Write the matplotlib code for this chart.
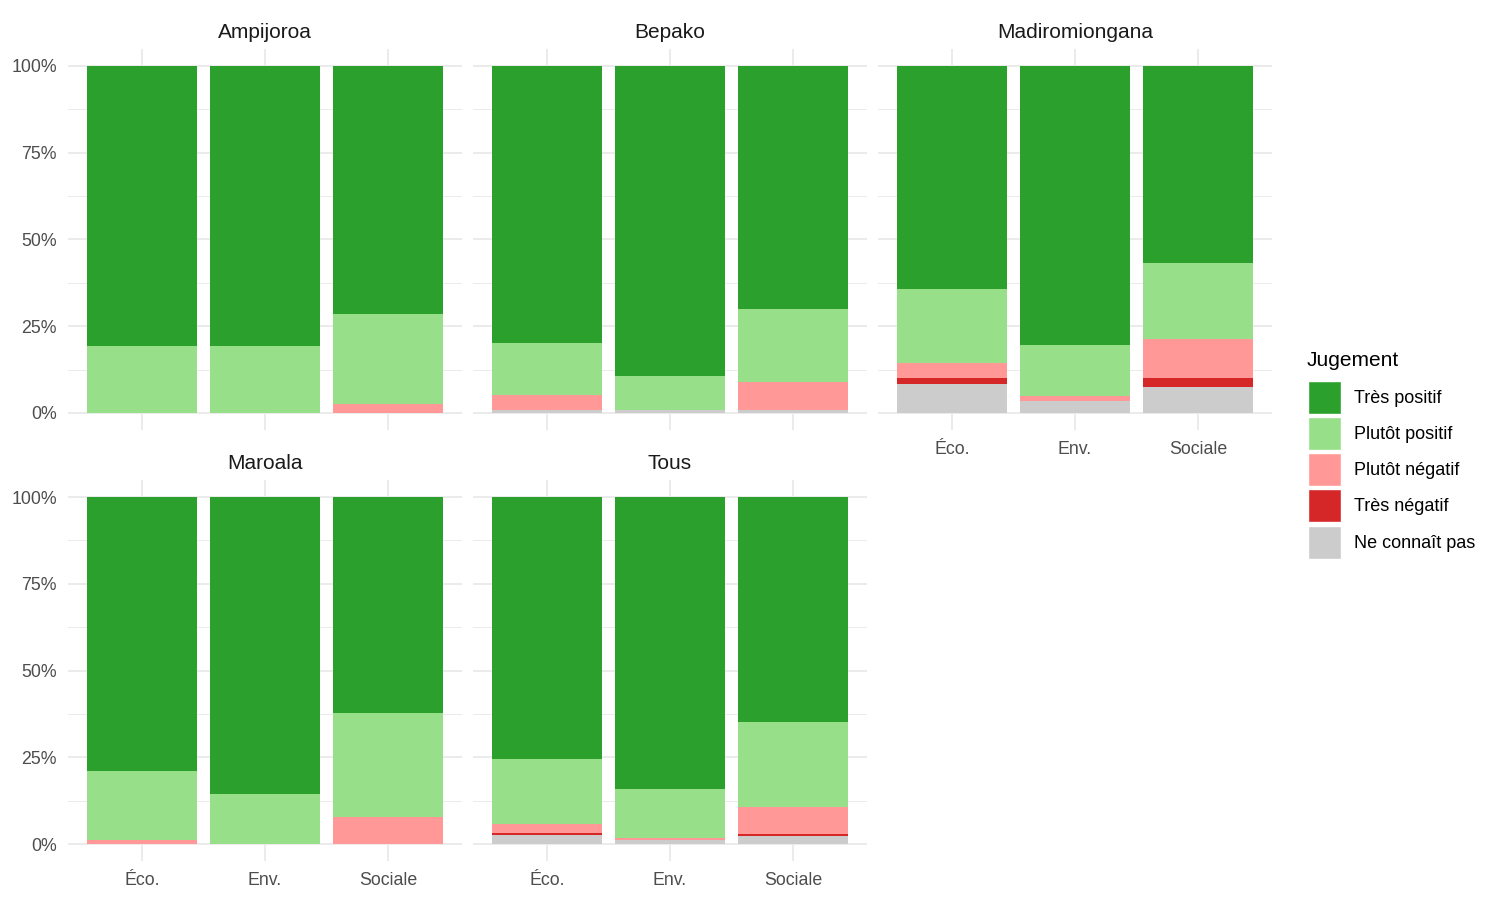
import matplotlib
matplotlib.use("Agg")
import matplotlib.pyplot as plt
from matplotlib.patches import Patch
import numpy as np

plt.rcParams['font.family'] = ['Liberation Sans', 'DejaVu Sans']

# data (percent)
sites = ["Ampijoroa", "Bepako", "Madiromiongana", "Maroala", "Tous"]
dims = ["Éco.", "Env.", "Sociale"]
levels = ["Très positif", "Plutôt positif", "Plutôt négatif", "Très négatif", "Ne connaît pas"]
colors = ["#2CA02C", "#98DF8A", "#FF9896", "#D62728", "#CCCCCC"]

ne_connait_pas = [[0, 0, 0], [0.8, 0.8, 0.8], [8.3, 3.4, 7.4], [0, 0, 0], [2.5, 1.2, 2.2]]
tres_negatif = [[0, 0, 0], [0, 0, 0], [1.7, 0, 2.6], [0, 0, 0], [0.6, 0, 0.6]]
plutot_negatif = [[0, 0, 2.7], [4.4, 0, 8.2], [4.3, 1.5, 11.2], [1.2, 0, 7.7], [2.7, 0.5, 7.8]]
plutot_positif = [[19.3, 19.3, 25.8], [15.0, 9.9, 21.0], [21.3, 14.6, 22.0], [19.8, 14.3, 30.0], [18.6, 14.3, 24.5]]
tres_positif = [[80.7, 80.7, 71.5], [79.8, 89.3, 70.0], [64.4, 80.5, 56.8], [79.0, 85.7, 62.3], [75.6, 84.0, 64.9]]

# stacking order, bottom to top
stack = [
    (ne_connait_pas, colors[4]),
    (tres_negatif, colors[3]),
    (plutot_negatif, colors[2]),
    (plutot_positif, colors[1]),
    (tres_positif, colors[0]),
]

W, H = 1500, 900
fig = plt.figure(figsize=(15, 9), dpi=100)

col_left = [68.2, 473.2, 878.2]
panel_w = 393.6
row_top = [48.65, 479.7]
panel_h = 381.7

grid_col = "#EBEBEB"
x = np.arange(len(dims))

for i, site in enumerate(sites):
    r, c = divmod(i, 3)
    ax = fig.add_axes([col_left[c] / W, 1 - (row_top[r] + panel_h) / H, panel_w / W, panel_h / H])
    bottom = np.zeros(len(dims))
    for vals, col in stack:
        v = np.array(vals[i]) / 100.0
        ax.bar(x, v, width=0.9, bottom=bottom, color=col, linewidth=0, zorder=3)
        bottom += v
    ax.set_xlim(-0.6, 2.6)
    ax.set_ylim(-0.05, 1.05)
    ax.set_yticks([0, 0.25, 0.5, 0.75, 1.0])
    ax.set_yticks([0.125, 0.375, 0.625, 0.875], minor=True)
    ax.set_xticks(x)
    ax.grid(True, which='major', color=grid_col, linewidth=1.4, zorder=0)
    ax.grid(True, which='minor', axis='y', color=grid_col, linewidth=0.7, zorder=0)
    for s in ax.spines.values():
        s.set_visible(False)
    ax.tick_params(which='both', length=0)
    ax.tick_params(axis='y', pad=8, labelsize=12.8, labelcolor="#4D4D4D")
    ax.tick_params(axis='x', pad=7.5, labelsize=12.8, labelcolor="#4D4D4D")
    if c == 0:
        ax.set_yticklabels(["0%", "25%", "50%", "75%", "100%"])
    else:
        ax.set_yticklabels([])
    # x labels only on panels with nothing below
    if r == 1 or (r == 0 and c == 2):
        ax.set_xticklabels(dims)
    else:
        ax.set_xticklabels([])
    ax.set_facecolor("white")
    ax.text(0.5, 1 + 16.5 / panel_h, site, transform=ax.transAxes, ha='center', va='center',
            fontsize=15, color="#1A1A1A")

# legend: title placed on its own, keys below
fig.text(1307 / W, 1 - 360 / H, "Jugement", ha='left', va='center', fontsize=15, color="#000000")
handles = [Patch(facecolor=col, edgecolor='white', linewidth=1) for col in colors]
leg = fig.legend(handles, levels, loc='upper left', bbox_to_anchor=(1307.5 / W, 1 - 381 / H),
                 frameon=False, fontsize=13,
                 handlelength=1.85, handleheight=2.44, labelspacing=0.17, handletextpad=0.72,
                 borderpad=0, borderaxespad=0)

fig.savefig("out.png", dpi=100, facecolor="white")
